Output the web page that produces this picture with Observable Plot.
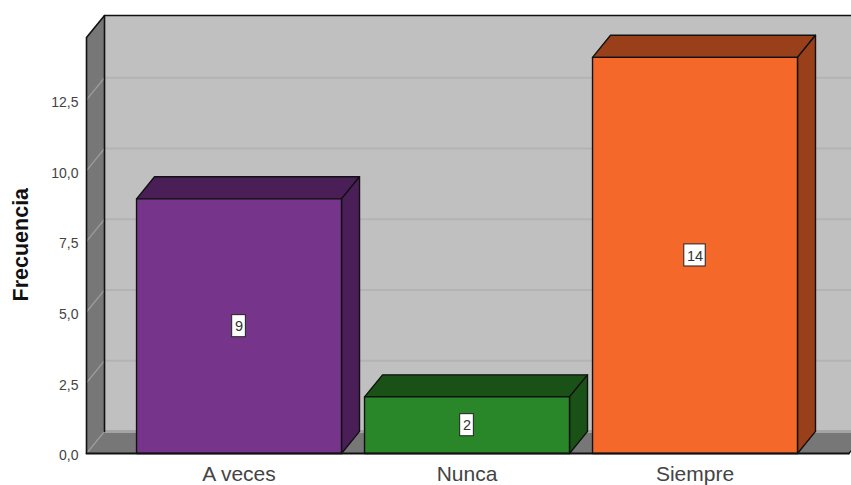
<!DOCTYPE html>
<html><head><meta charset="utf-8">
<style>html,body{margin:0;padding:0;background:#fff;overflow:hidden}svg{display:block}</style>
<script src="https://cdn.jsdelivr.net/npm/d3@7"></script>
<script src="https://cdn.jsdelivr.net/npm/@observablehq/plot@0.6"></script>
</head><body><div id="chart"></div>
<script>
const categories = ["A veces", "Nunca", "Siempre"];
const frequencies = [9, 2, 14];
const frontColors = ["#76358a", "#2a8729", "#f4682a"];
const shadeColors = ["#4a1f58", "#195116", "#993f1a"];
const yTicks = [0, 2.5, 5, 7.5, 10, 12.5];
const yLabel = "Frecuencia";

// chart-space constants (x in category slots, y in frequency units)
const barHalf = 0.4495, depthX = 0.079, depthY = 0.78;
const xMin = -0.669, xMax = 2.675, yMax = 14.7;
const ink = "#111", wallSide = "#777", wall = "#c0c0c0";

const face = (pts, fill, stroke = ink) => Plot.line(pts, {
  x: "0", y: "1", fill, stroke, strokeWidth: 1.4, curve: "linear-closed", strokeLinejoin: "round"
});
const edge = (pts, stroke = ink, strokeWidth = 1.6) => Plot.line(pts, {x: "0", y: "1", stroke, strokeWidth});
const lift = ([x, y]) => [x + depthX, y + depthY];

const bars = frequencies.flatMap((v, i) => {
  const a = [i - barHalf, 0], b = [i + barHalf, 0], c = [i + barHalf, v], d = [i - barHalf, v];
  return [
    face([d, c, lift(c), lift(d)], shadeColors[i]),
    face([b, lift(b), lift(c), c], shadeColors[i]),
    face([a, b, c, d], frontColors[i])
  ];
});

const labelBoxes = frequencies.map((v, i) => ({
  x1: i - (String(v).length > 1 ? 0.047 : 0.03),
  x2: i + (String(v).length > 1 ? 0.047 : 0.03),
  y1: v / 2 - 0.39, y2: v / 2 + 0.39
}));

const lb = [xMin, 0], lt = [xMin, yMax], rb = [xMax, 0], rt = [xMax, yMax];

const chart = Plot.plot({
  width: 851, height: 485,
  marginLeft: 86, marginRight: 0, marginTop: 15, marginBottom: 32,
  x: {type: "linear", domain: [xMin, 2.6864], axis: null},
  y: {type: "linear", domain: [0, yMax + depthY], axis: null},
  style: {fontFamily: "'Liberation Sans', Arial, sans-serif", background: "#fff", overflow: "hidden"},
  marks: [
    face([lift(lb), lift(rb), lift(rt), lift(lt)], wall, "none"),
    face([lb, lift(lb), lift(lt), lt], wallSide, "none"),
    face([lb, rb, lift(rb), lift(lb)], wallSide, "none"),
    Plot.link(yTicks, {
      x1: () => xMin, y1: d => d, x2: () => xMin + depthX, y2: d => d + depthY,
      stroke: "#9c9c9c", strokeWidth: 1.3
    }),
    Plot.link(yTicks, {
      x1: () => xMin + depthX, y1: d => d + depthY, x2: () => xMax + depthX, y2: d => d + depthY,
      stroke: d => d === 0 ? "#a4a4a4" : "#b3b3b3", strokeWidth: d => d === 0 ? 3 : 2
    }),
    edge([lb, lt, lift(lt), lift(rt)]),
    edge([lift(lb), lift(lt)]),
    edge([rb, lift(rb)], ink, 1.2),
    ...bars,
    edge([lb, rb], ink, 1.8),
    Plot.rect(labelBoxes, {x1: "x1", x2: "x2", y1: "y1", y2: "y2", fill: "#fff", stroke: "#222", strokeWidth: 1}),
    Plot.text(frequencies, {
      x: (d, i) => i, y: d => d / 2, text: d => String(d),
      fontSize: 14.5, fill: "#333", dy: 0.5
    }),
    Plot.axisX({
      ticks: [0, 1, 2], tickFormat: i => categories[i], tickSize: 0, tickPadding: 13,
      fontSize: 21, fill: "#444", label: null, anchor: "bottom"
    }),
    Plot.axisY({
      ticks: yTicks, tickFormat: d => d.toFixed(1).replace(".", ","), tickSize: 0, tickPadding: 8,
      fontSize: 14, fill: "#444", label: null, anchor: "left", dy: 2.5
    }),
    Plot.text([yLabel], {
      frameAnchor: "left", y: () => 7.38, text: d => d, rotate: -90, textAnchor: "middle",
      dx: -65, fontSize: 21.5, fontWeight: "bold", fill: "#111"
    })
  ]
});
document.getElementById("chart").append(chart);
</script></body></html>
